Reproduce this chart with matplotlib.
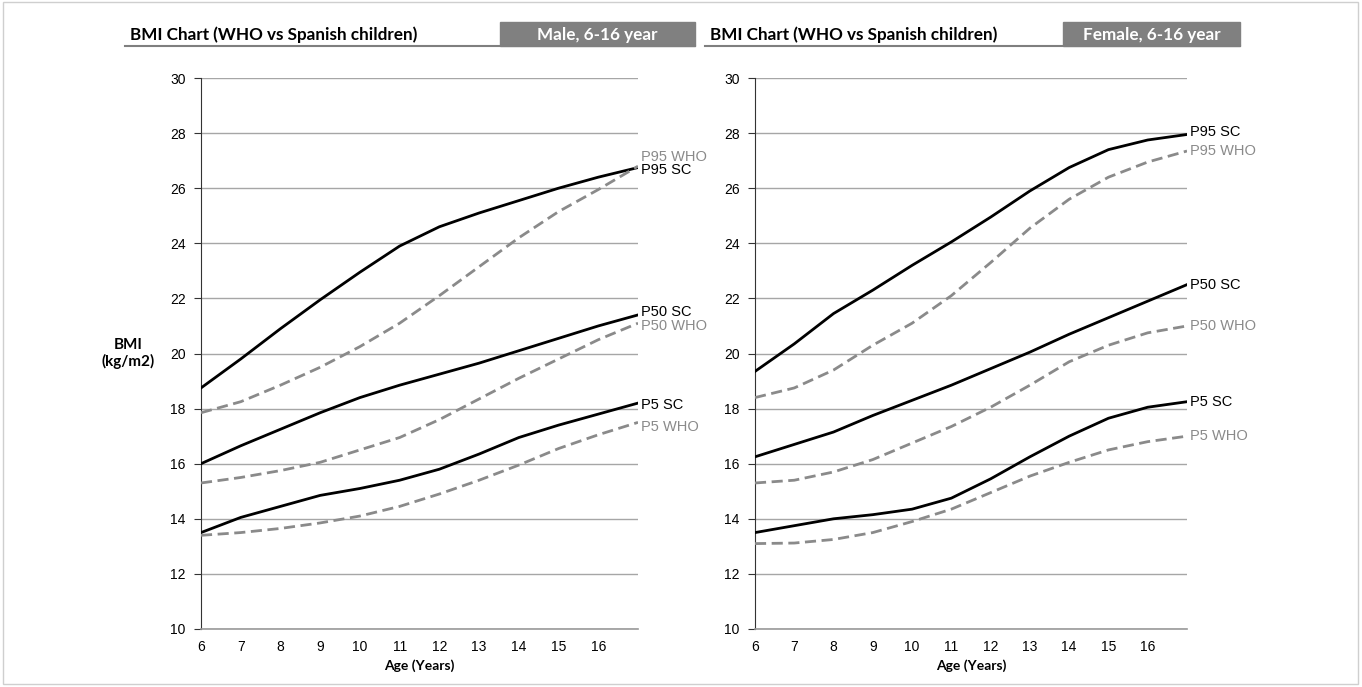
import matplotlib
matplotlib.use("Agg")
from matplotlib import pyplot as plt
from matplotlib.patches import Rectangle
from matplotlib.lines import Line2D

# ages on the x axis
ages = [6, 7, 8, 9, 10, 11, 12, 13, 14, 15, 16, 17]
x_ticks = [6, 7, 8, 9, 10, 11, 12, 13, 14, 15, 16]
y_ticks = [10, 12, 14, 16, 18, 20, 22, 24, 26, 28, 30]

# male, Spanish children (SC) and WHO percentiles
male_p95_sc = [18.75, 19.8, 20.9, 21.95, 22.95, 23.9, 24.6, 25.1, 25.55, 26.0, 26.4, 26.75]
male_p95_who = [17.85, 18.25, 18.85, 19.5, 20.25, 21.1, 22.1, 23.15, 24.2, 25.15, 25.95, 26.8]
male_p50_sc = [16.0, 16.65, 17.25, 17.85, 18.4, 18.85, 19.25, 19.65, 20.1, 20.55, 21.0, 21.4]
male_p50_who = [15.3, 15.5, 15.75, 16.05, 16.5, 16.95, 17.6, 18.35, 19.1, 19.8, 20.5, 21.1]
male_p5_sc = [13.5, 14.05, 14.45, 14.85, 15.1, 15.4, 15.8, 16.35, 16.95, 17.4, 17.8, 18.2]
male_p5_who = [13.4, 13.5, 13.65, 13.85, 14.1, 14.45, 14.9, 15.4, 15.95, 16.55, 17.05, 17.5]

# female
female_p95_sc = [19.35, 20.35, 21.45, 22.3, 23.2, 24.05, 24.95, 25.9, 26.75, 27.4, 27.75, 27.95]
female_p95_who = [18.4, 18.75, 19.4, 20.3, 21.1, 22.1, 23.3, 24.55, 25.6, 26.4, 26.95, 27.35]
female_p50_sc = [16.25, 16.7, 17.15, 17.75, 18.3, 18.85, 19.45, 20.05, 20.7, 21.3, 21.9, 22.5]
female_p50_who = [15.3, 15.4, 15.7, 16.15, 16.75, 17.35, 18.05, 18.85, 19.7, 20.3, 20.75, 21.0]
female_p5_sc = [13.5, 13.75, 14.0, 14.15, 14.35, 14.75, 15.45, 16.25, 17.0, 17.65, 18.05, 18.25]
female_p5_who = [13.1, 13.12, 13.25, 13.5, 13.9, 14.35, 14.95, 15.55, 16.05, 16.5, 16.8, 17.0]

labels = ["P95 SC", "P95 WHO", "P50 SC", "P50 WHO", "P5 SC", "P5 WHO"]
male = [male_p95_sc, male_p95_who, male_p50_sc, male_p50_who, male_p5_sc, male_p5_who]
female = [female_p95_sc, female_p95_who, female_p50_sc, female_p50_who, female_p5_sc, female_p5_who]

NARROW = ["Liberation Sans", "DejaVu Sans"]
HEAD = ["Lato", "DejaVu Sans"]
GRAY = "#8a8a8a"

# label offsets (points) from the line ends
male_dy = [-2, 6.5, 2, -2, -1.5, -3]
female_dy = [2, 0, 0, 0, 0, 0]

fig = plt.figure(figsize=(13.62, 6.87), dpi=100)
fig.patches.append(Rectangle((0.002, 0.004), 0.995, 0.993, transform=fig.transFigure,
                             fill=False, edgecolor="#cfcfcf", lw=1))


def draw_panel(rect, series, dys, sex_text, head_x, box_x0, box_x1):
    ax = fig.add_axes(rect)
    for i, (vals, lab) in enumerate(zip(series, labels)):
        sc = i % 2 == 0
        if sc:
            ax.plot(ages, vals, color="black", lw=2, zorder=3)
        else:
            ax.plot(ages, vals, color=GRAY, lw=2, ls=(0, (4, 2)), zorder=3)
        ax.annotate(lab, (ages[-1], vals[-1]), xytext=(2, dys[i]), textcoords="offset points",
                    va="center", ha="left", fontsize=10.5, family=NARROW,
                    color="black" if sc else GRAY, annotation_clip=False)
    ax.set_xlim(6, 17)
    ax.set_ylim(10, 30)
    ax.set_xticks(x_ticks)
    ax.set_yticks(y_ticks)
    ax.grid(axis="y", color="#a6a6a6", lw=1)
    ax.set_axisbelow(True)
    for s in ["top", "right"]:
        ax.spines[s].set_visible(False)
    ax.spines["left"].set_color("#333333")
    ax.spines["bottom"].set_color("#999999")
    ax.spines["bottom"].set_linewidth(1.2)
    ax.tick_params(axis="y", length=5, color="#333333", pad=6)
    ax.tick_params(axis="x", length=0, pad=8)
    for t in ax.get_xticklabels() + ax.get_yticklabels():
        t.set_family(NARROW)
        t.set_fontsize(10)
    ax.set_xlabel("Age (Years)", family=HEAD, fontweight="bold", fontsize=10, labelpad=4)

    # header: title, gray box, underline
    y_line = 1 - 46 / 687
    fig.add_artist(Line2D([head_x - 5 / 1362, box_x1], [y_line, y_line], color="#7f7f7f", lw=1.5))
    fig.patches.append(Rectangle((box_x0, y_line), box_x1 - box_x0, 24 / 687,
                                 transform=fig.transFigure, color="#808080"))
    fig.text(head_x, 1 - 35 / 687, "BMI Chart (WHO vs Spanish children)", family=HEAD,
             fontweight="bold", fontsize=12.3, va="center", ha="left")
    fig.text((box_x0 + box_x1) / 2, 1 - 35 / 687, sex_text, family=HEAD, fontweight="bold",
             fontsize=12.3, va="center", ha="center", color="white")
    return ax


ax1 = draw_panel([201 / 1362, 1 - 629 / 687, 437 / 1362, 551 / 687], male, male_dy,
                 "Male, 6-16 year", 130 / 1362, 500 / 1362, 695 / 1362)
ax1.set_ylabel("BMI\n(kg/m2)", rotation=0, family=HEAD, fontweight="bold", fontsize=11,
               va="center", ha="center", labelpad=30)
ax2 = draw_panel([755 / 1362, 1 - 629 / 687, 432 / 1362, 551 / 687], female, female_dy,
                 "Female, 6-16 year", 710 / 1362, 1063 / 1362, 1240 / 1362)

fig.savefig("out.png", dpi=100)
